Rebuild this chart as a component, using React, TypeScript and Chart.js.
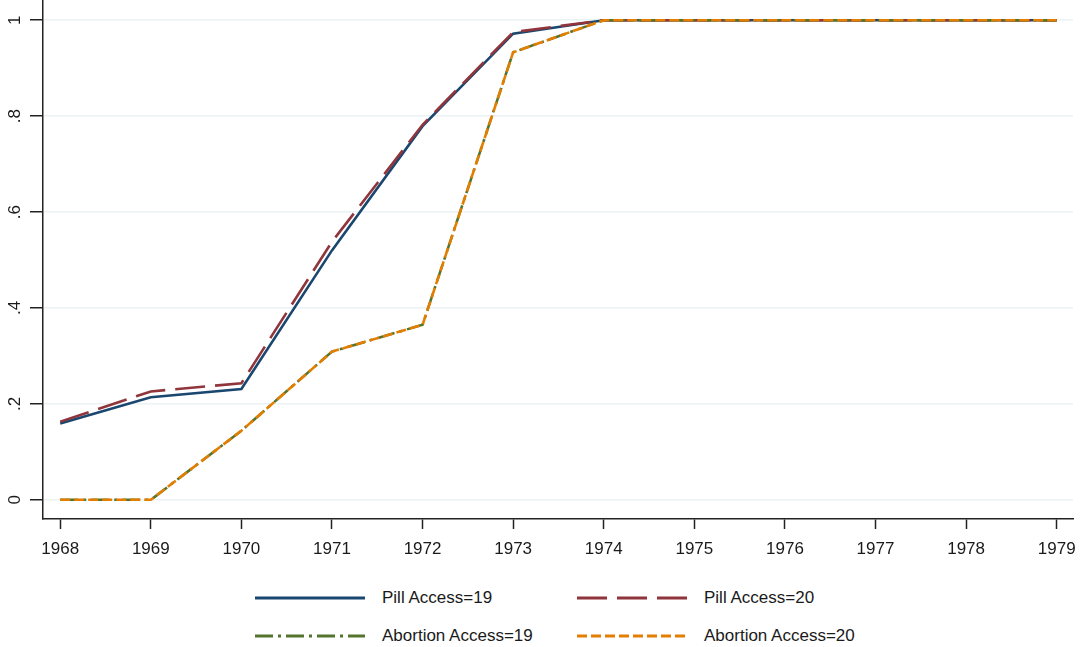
import React, { useEffect, useRef } from 'react';
import { Chart, registerables } from 'chart.js';

Chart.register(...registerables);

const years = [1968, 1969, 1970, 1971, 1972, 1973, 1974, 1975, 1976, 1977, 1978, 1979];
const pill19 = [0.159, 0.214, 0.231, 0.52, 0.779, 0.972, 1, 1, 1, 1, 1, 1];
const pill20 = [0.163, 0.226, 0.243, 0.538, 0.782, 0.975, 1, 1, 1, 1, 1, 1];
const abortion19 = [0, 0, 0.144, 0.309, 0.365, 0.933, 1, 1, 1, 1, 1, 1];
const abortion20 = [0, 0, 0.144, 0.309, 0.365, 0.933, 1, 1, 1, 1, 1, 1];
const yTicks = [0, 0.2, 0.4, 0.6, 0.8, 1];
const seriesLabels = ['Pill Access=19', 'Pill Access=20', 'Abortion Access=19', 'Abortion Access=20'];
const seriesColors = ['#1a476f', '#90353b', '#55752f', '#e37e00'];
const seriesDashes: number[][] = [[], [30, 10], [18, 5, 3, 5], [10, 4]];

const FONT = '"Liberation Sans", Arial, sans-serif';

function fmtY(v: number): string {
  if (v === 0) return '0';
  if (v === 1) return '1';
  return '.' + String(Math.round(v * 10));
}

export default function App() {
  const ref = useRef<HTMLCanvasElement | null>(null);

  useEffect(() => {
    if (!ref.current) return;
    const series = [pill19, pill20, abortion19, abortion20];
    const chart = new Chart(ref.current, {
      type: 'line',
      data: {
        datasets: series.map((vals, i) => ({
          label: seriesLabels[i],
          data: years.map((yr, j) => ({ x: yr, y: vals[j] })),
          borderColor: seriesColors[i],
          backgroundColor: seriesColors[i],
          borderWidth: 2.6,
          borderDash: seriesDashes[i],
          pointRadius: 0,
          tension: 0,
          fill: false,
          order: 4 - i,
        })),
      },
      options: {
        animation: false,
        responsive: false,
        maintainAspectRatio: false,
        layout: { padding: { top: 1, right: 8, left: 0, bottom: 0 } },
        plugins: { legend: { display: false }, tooltip: { enabled: false } },
        scales: {
          x: {
            type: 'linear',
            min: 1967.81,
            max: 1979.18,
            afterBuildTicks: (s: any) => {
              s.ticks = years.map((v) => ({ value: v }));
            },
            afterFit: (s: any) => {
              s.height = 51;
              s.paddingLeft = 0;
              s.paddingRight = 0;
            },
            ticks: {
              font: { family: FONT, size: 17 },
              color: '#1a1a1a',
              padding: 10,
              callback: (v: any) => String(v),
              maxRotation: 0,
              minRotation: 0,
            },
            grid: {
              drawOnChartArea: false,
              drawTicks: true,
              tickLength: 10,
              tickColor: '#222',
              tickWidth: 1.5,
            },
            border: { color: '#222', width: 1.5 },
          },
          y: {
            type: 'linear',
            min: -0.04,
            max: 1.04,
            afterBuildTicks: (s: any) => {
              s.ticks = yTicks.map((v) => ({ value: v }));
            },
            afterFit: (s: any) => {
              s.width = 43;
              s.paddingTop = 0;
              s.paddingBottom = 0;
            },
            ticks: {
              font: { family: FONT, size: 17 },
              color: '#1a1a1a',
              padding: 8,
              minRotation: 90,
              maxRotation: 90,
              crossAlign: 'center',
              callback: (v: any) => fmtY(Number(v)),
            },
            grid: {
              color: '#eaf2f3',
              lineWidth: 1.5,
              drawTicks: true,
              tickLength: 13,
              tickColor: '#222',
              tickWidth: 1.5,
            },
            border: { color: '#222', width: 1.5 },
          },
        },
      },
    });
    return () => chart.destroy();
  }, []);

  const legendCols = [255, 577];
  const legendRows = [598, 636];

  return (
    <div style={{ position: 'absolute', left: 0, top: 0, width: 1081, height: 647, background: '#fff', overflow: 'hidden' }}>
      <canvas ref={ref} width={1081} height={570} style={{ position: 'absolute', left: 0, top: 0, width: 1081, height: 570 }} />
      {seriesLabels.map((lab, i) => {
        const x = legendCols[i % 2];
        const y = legendRows[Math.floor(i / 2)];
        return (
          <div key={lab} style={{ position: 'absolute', left: x, top: y - 12, height: 24, display: 'flex', alignItems: 'center' }}>
            <svg width={110} height={6} style={{ display: 'block' }}>
              <line x1={0} y1={3} x2={110} y2={3} stroke={seriesColors[i]} strokeWidth={2.8}
                strokeDasharray={seriesDashes[i].length ? seriesDashes[i].join(' ') : undefined} />
            </svg>
            <span style={{ marginLeft: 17, fontFamily: FONT, fontSize: 17, color: '#1a1a1a', whiteSpace: 'nowrap' }}>{lab}</span>
          </div>
        );
      })}
    </div>
  );
}
